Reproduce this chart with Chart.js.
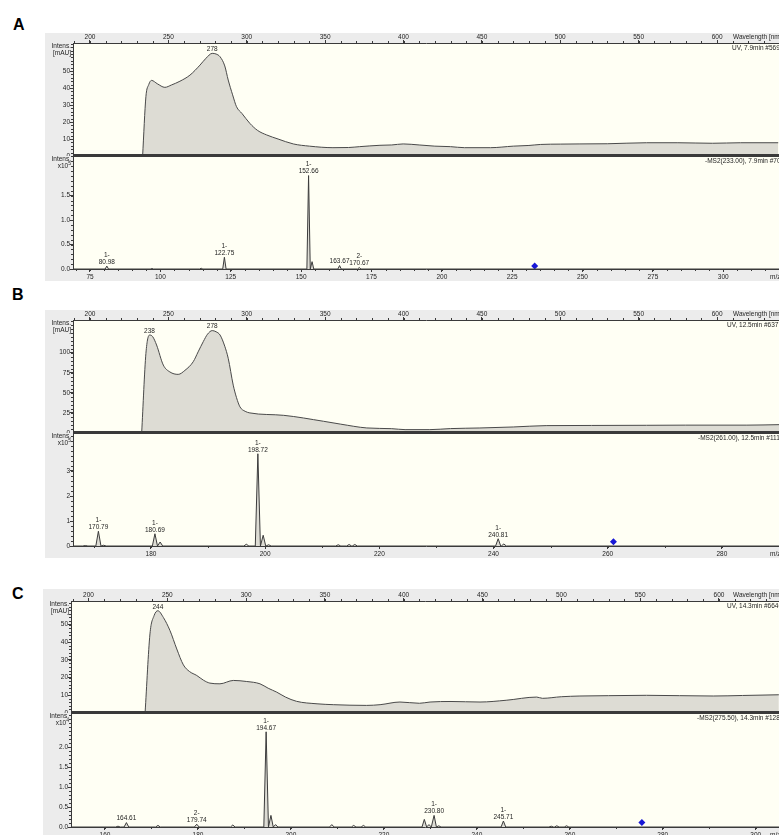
<!DOCTYPE html>
<html>
<head>
<meta charset="utf-8">
<script src="https://cdn.jsdelivr.net/npm/chart.js@4.4.0/dist/chart.umd.min.js"></script>
<style>
  body { margin: 0; width: 779px; height: 835px; overflow: hidden; background: #fff; position: relative; }
  .letter { position: absolute; font: bold 16px "Liberation Sans", Arial, sans-serif; line-height: 16px; color: #000; }
  .frame { position: absolute; background: #ececec; }
  canvas { position: absolute; }
</style>
</head>
<body>
<div class="letter" style="left:13px;top:17px">A</div>
<div class="letter" style="left:12px;top:287px">B</div>
<div class="letter" style="left:12px;top:586px">C</div>

<div class="frame" style="left:45px;top:33px;width:734px;height:248px"></div>
<div class="frame" style="left:45px;top:310px;width:734px;height:248px"></div>
<div class="frame" style="left:43px;top:589px;width:736px;height:250px"></div>

<canvas id="uvA" width="734" height="123" style="left:45px;top:33px"></canvas>
<canvas id="msA" width="734" height="125" style="left:45px;top:156px"></canvas>
<canvas id="uvB" width="734" height="123" style="left:45px;top:310px"></canvas>
<canvas id="msB" width="734" height="125" style="left:45px;top:433px"></canvas>
<canvas id="uvC" width="736" height="124" style="left:43px;top:589px"></canvas>
<canvas id="msC" width="736" height="125" style="left:43px;top:713px"></canvas>

<script>
// UV spectra (wavelength nm / absorbance mAU)
const uvA_nm  = [233.6, 235.7, 237.5, 239.3, 243, 247.8, 252, 257.4, 263.8, 270.2, 274, 278, 280.5, 283, 286, 288.2, 291, 293.5, 297, 302, 307, 312.7, 320, 329.7, 340, 355, 365, 372, 385, 392.5, 399.8, 410, 420, 430, 438.9, 455.5, 470, 480, 487.5, 500, 512, 530, 555, 575, 597, 615, 639];
const uvA_abs = [0, 34.9, 42, 44.5, 42.5, 40.4, 41.8, 44, 47.6, 53.5, 57.5, 60.4, 60, 58.4, 53, 44.7, 36, 29, 25, 19.2, 15, 12.4, 10, 7.1, 5.8, 4.9, 5.0, 5.5, 6.3, 6.5, 7.1, 6.5, 5.8, 5.5, 4.9, 4.9, 5.8, 6.2, 6.8, 7.0, 7.1, 7.2, 7.8, 7.8, 7.5, 7.8, 7.8];
const uvA_peaks = [278];

const uvB_nm  = [233, 235.7, 238, 240, 242.5, 246.8, 251, 256.3, 260.6, 265.9, 269, 272.3, 275, 278, 280.5, 283, 286, 288.2, 291.4, 293.5, 295.7, 299, 302, 323.6, 349, 360, 376.6, 392.5, 401, 416.8, 430, 448.7, 470, 491, 520, 555, 580, 619, 639.6];
const uvB_abs = [0, 99, 122, 120, 109.6, 84.6, 76, 73, 78, 88.8, 101, 113.8, 123, 127.5, 126, 122, 108, 93, 59.6, 44, 32.5, 27, 25, 22, 14.6, 11, 6.3, 5.4, 4.2, 4.2, 5.5, 6.25, 7.5, 9.2, 9.4, 9.6, 9.8, 9.8, 10.4];
const uvB_peaks = [238, 278];

const uvC_nm  = [235.9, 239, 241.6, 244, 247.5, 251.7, 256, 260.2, 264, 268.7, 273, 277, 283.4, 291.9, 300.4, 308.8, 314, 319.4, 325, 332, 345, 355.3, 376.5, 385, 397.6, 410, 416.7, 430, 448.4, 465, 484.4, 488, 500, 511.8, 530, 554, 575, 596.4, 615, 638];
const uvC_abs = [0, 44.7, 55, 57.8, 54, 46.6, 36.2, 27.2, 23.5, 21.2, 18.5, 16.9, 16.5, 18.4, 17.8, 16.5, 14, 11.8, 9, 6.6, 5.2, 4.7, 4.3, 4.7, 6.2, 5.5, 6.2, 6.5, 6.2, 7.2, 9.0, 8.3, 9.2, 9.6, 9.8, 10, 9.8, 9.6, 9.9, 10.3];
const uvC_peaks = [244];

const uvX_ticks  = [200, 250, 300, 350, 400, 450, 500, 550, 600];
const uvA_yticks = [0, 10, 20, 30, 40, 50];
const uvB_yticks = [0, 25, 50, 75, 100];
const uvC_yticks = [0, 10, 20, 30, 40, 50];

// MS2 spectra (m/z / intensity in x10^n)
const msA_mz  = [80.98, 97.0, 114.5, 122.75, 152.66, 153.9, 163.67, 170.67];
const msA_int = [0.06, 0.01, 0.015, 0.24, 1.91, 0.15, 0.07, 0.03];
const msA_lbl = ['1-\n80.98', '', '', '1-\n122.75', '1-\n152.66', '', '163.67', '2-\n170.67'];
const msA_prec = [233.00], msA_precY = [0.06];
const msA_xticks = [75, 100, 125, 150, 175, 200, 225, 250, 275, 300];
const msA_yticks = [0, 0.5, 1.0, 1.5];

const msB_mz  = [168.5, 170.79, 171.7, 180.69, 181.6, 196.7, 198.72, 199.65, 200.6, 212.8, 214.7, 215.7, 240.81, 241.8];
const msB_int = [0.02, 0.59, 0.03, 0.49, 0.16, 0.07, 3.69, 0.43, 0.05, 0.05, 0.06, 0.06, 0.29, 0.08];
const msB_lbl = ['', '1-\n170.79', '', '1-\n180.69', '', '', '1-\n198.72', '', '', '', '', '', '1-\n240.81', ''];
const msB_prec = [261.00], msB_precY = [0.17];
const msB_xticks = [180, 200, 220, 240, 260, 280];
const msB_yticks = [0, 1, 2, 3];

const msC_mz  = [162.8, 164.61, 171.4, 179.74, 187.5, 194.67, 195.7, 196.7, 208.8, 213.5, 215.6, 228.7, 229.7, 230.80, 231.8, 245.71, 256.0, 257.2, 259.3];
const msC_int = [0.02, 0.11, 0.04, 0.07, 0.05, 2.38, 0.29, 0.06, 0.06, 0.04, 0.04, 0.19, 0.06, 0.29, 0.03, 0.15, 0.02, 0.03, 0.03];
const msC_lbl = ['', '164.61', '', '2-\n179.74', '', '1-\n194.67', '', '', '', '', '', '', '', '1-\n230.80', '', '1-\n245.71', '', '', ''];
const msC_prec = [275.50], msC_precY = [0.11];
const msC_xticks = [160, 180, 200, 220, 240, 260, 280, 300];
const msC_yticks = [0, 0.5, 1.0, 1.5, 2.0];

const FAM = '"Liberation Sans", Arial, sans-serif';
const FONT = '6.5px ' + FAM;
const TXT = '#1e1e1e', AX = '#3a3a3a', LINE = '#4a4a4a', FILL = '#dddcd4', PLOT = '#fffff4';

// draws plot background, minor ticks, divider, peak labels and the small texts
function decor(c) {
  return {
    id: 'decor',
    beforeDraw(chart) {
      const ctx = chart.ctx, a = chart.chartArea;
      ctx.save();
      ctx.fillStyle = PLOT;
      ctx.fillRect(a.left, a.top, a.right - a.left, a.bottom - a.top);
      ctx.restore();
    },
    afterDraw(chart) {
      const ctx = chart.ctx, a = chart.chartArea;
      const xs = chart.scales.x, ys = chart.scales.y;
      ctx.save();
      ctx.strokeStyle = AX;
      ctx.lineWidth = 1;
      ctx.beginPath();
      for (let v = Math.ceil(xs.min / c.minorX) * c.minorX; v <= xs.max; v += c.minorX) {
        const p = Math.round(xs.getPixelForValue(v)) + 0.5;
        if (c.top) { ctx.moveTo(p, a.top - 2); ctx.lineTo(p, a.top); }
        else { ctx.moveTo(p, a.bottom); ctx.lineTo(p, a.bottom + 2); }
      }
      for (let k = 1; k * c.minorY <= ys.max; k++) {
        const p = Math.round(ys.getPixelForValue(k * c.minorY)) + 0.5;
        ctx.moveTo(a.left - 2, p); ctx.lineTo(a.left, p);
      }
      ctx.stroke();

      // divider between the two plots
      ctx.beginPath();
      if (c.top) { ctx.lineWidth = 2; ctx.moveTo(a.left, a.bottom - 1); ctx.lineTo(a.right, a.bottom - 1); }
      else { ctx.lineWidth = 1; ctx.moveTo(a.left, a.top + 0.5); ctx.lineTo(a.right, a.top + 0.5); }
      ctx.stroke();

      ctx.font = FONT;
      ctx.fillStyle = TXT;
      ctx.textBaseline = 'middle';
      ctx.textAlign = 'center';
      c.labels.forEach(l => {
        const px = xs.getPixelForValue(l.x), py = ys.getPixelForValue(l.y) - 4;
        const lines = l.text.split('\n');
        lines.forEach((t, k) => ctx.fillText(t, px, py - (lines.length - 1 - k) * 7));
      });

      // y title
      ctx.textAlign = 'right';
      const rx = a.left - 2;
      if (c.top) {
        ctx.fillText('Intens.', rx, a.top + 3.5);
        ctx.fillText('[mAU]', rx, a.top + 10.5);
      } else {
        ctx.fillText('Intens.', rx, a.top + 3.5);
        ctx.font = '5px ' + FAM;
        const ew = ctx.measureText(c.exp).width;
        ctx.fillText(c.exp, rx, a.top + 8);
        ctx.font = FONT;
        ctx.fillText('x10', rx - ew, a.top + 10);
      }

      ctx.textAlign = 'left';
      ctx.fillText(c.header, a.right - c.headerDx, a.top + 5.5);
      if (c.top) ctx.fillText('Wavelength [nm]', a.right - 46, a.top - 5.5);
      else ctx.fillText('m/z', a.right - 9, a.bottom + 8);
      ctx.restore();
    }
  };
}

function options(o) {
  const tickFont = {family: FAM, size: 6.5};
  return {
    responsive: false,
    animation: false,
    devicePixelRatio: 1,
    events: [],
    layout: {padding: 0, autoPadding: false},
    plugins: {legend: {display: false}, tooltip: {enabled: false}},
    scales: {
      x: {
        type: 'linear', position: o.top ? 'top' : 'bottom', min: o.xmin, max: o.xmax,
        afterBuildTicks: s => { s.ticks = o.xticks.map(v => ({value: v})); },
        afterFit: s => { s.height = o.axisH; s.paddingLeft = 0; s.paddingRight = 0; },
        ticks: {font: tickFont, color: TXT, padding: o.top ? -1 : 1, maxRotation: 0, autoSkip: false},
        grid: {drawOnChartArea: false, tickLength: 3, color: AX},
        border: {color: AX, width: 1}
      },
      y: {
        type: 'linear', min: 0, max: o.ymax,
        afterBuildTicks: s => { s.ticks = o.yticks.map(v => ({value: v})); },
        afterFit: s => { s.width = o.axisW; s.paddingTop = 0; s.paddingBottom = 0; },
        ticks: {font: tickFont, color: TXT, padding: 0, autoSkip: false, callback: v => o.fmt(v)},
        grid: {drawOnChartArea: false, tickLength: 3, color: AX},
        border: {color: AX, width: 1}
      }
    }
  };
}

function uvChart(id, nm, abs, peaks, o) {
  const pts = nm.map((x, i) => ({x: x, y: abs[i]}));
  const labels = peaks.map(p => ({x: p, y: abs[nm.indexOf(p)], text: String(p)}));
  o.top = true;
  new Chart(document.getElementById(id), {
    type: 'line',
    data: {datasets: [{
      data: pts, borderColor: LINE, borderWidth: 1, backgroundColor: FILL,
      fill: 'origin', pointRadius: 0, cubicInterpolationMode: 'monotone'
    }]},
    options: options(o),
    plugins: [decor({top: true, minorX: 10, minorY: o.minorY, labels: labels,
                     header: o.header, headerDx: o.headerDx})]
  });
}

function msChart(id, mz, inten, lbl, prec, precY, o) {
  const w = o.width;
  const pts = [{x: o.xmin, y: 0}];
  mz.forEach((m, i) => { pts.push({x: m - w, y: 0}, {x: m, y: inten[i]}, {x: m + w, y: 0}); });
  pts.push({x: o.xmax, y: 0});
  pts.sort((p, q) => p.x - q.x);
  const labels = [];
  mz.forEach((m, i) => { if (lbl[i]) labels.push({x: m, y: inten[i], text: lbl[i]}); });
  o.top = false;
  new Chart(document.getElementById(id), {
    type: 'line',
    data: {datasets: [
      {data: pts, borderColor: '#3c3c3c', borderWidth: 1, backgroundColor: FILL,
       fill: 'origin', pointRadius: 0, tension: 0},
      {data: prec.map((m, i) => ({x: m, y: precY[i]})), showLine: false, pointStyle: 'rectRot',
       pointRadius: 3.5, backgroundColor: '#1818d6', borderColor: '#1818d6', borderWidth: 0, clip: false}
    ]},
    options: options(o),
    plugins: [decor({top: false, minorX: o.minorX, minorY: o.minorY, labels: labels,
                     header: o.header, headerDx: o.headerDx, exp: o.exp})]
  });
}

uvChart('uvA', uvA_nm, uvA_abs, uvA_peaks, {xmin: 189.2, xmax: 639.5, ymax: 66.5, xticks: uvX_ticks, yticks: uvA_yticks,
  axisH: 10, axisW: 28, minorY: 2, fmt: v => String(v), header: 'UV, 7.9min #5693', headerDx: 47});
msChart('msA', msA_mz, msA_int, msA_lbl, msA_prec, msA_precY, {xmin: 68.96, xmax: 319.8, ymax: 2.31, xticks: msA_xticks,
  yticks: msA_yticks, axisH: 12, axisW: 28, width: 0.6, minorX: 5, minorY: 0.1, fmt: v => v.toFixed(1),
  header: '-MS2(233.00), 7.9min #704', headerDx: 74, exp: '5'});

uvChart('uvB', uvB_nm, uvB_abs, uvB_peaks, {xmin: 189.2, xmax: 639.5, ymax: 140.7, xticks: uvX_ticks, yticks: uvB_yticks,
  axisH: 10, axisW: 28, minorY: 5, fmt: v => String(v), header: 'UV, 12.5min #6377', headerDx: 52});
msChart('msB', msB_mz, msB_int, msB_lbl, msB_prec, msB_precY, {xmin: 166.34, xmax: 290.0, ymax: 4.52, xticks: msB_xticks,
  yticks: msB_yticks, axisH: 12, axisW: 28, width: 0.45, minorX: 10, minorY: 0.2, fmt: v => String(v),
  header: '-MS2(261.00), 12.5min #1119', headerDx: 81, exp: '5'});

uvChart('uvC', uvC_nm, uvC_abs, uvC_peaks, {xmin: 188.9, xmax: 638.1, ymax: 63.3, xticks: uvX_ticks, yticks: uvC_yticks,
  axisH: 12, axisW: 28, minorY: 2, fmt: v => String(v), header: 'UV, 14.3min #6646', headerDx: 52});
msChart('msC', msC_mz, msC_int, msC_lbl, msC_prec, msC_precY, {xmin: 152.69, xmax: 305.0, ymax: 2.85, xticks: msC_xticks,
  yticks: msC_yticks, axisH: 11, axisW: 28, width: 0.5, minorX: 10, minorY: 0.1, fmt: v => v.toFixed(1),
  header: '-MS2(275.50), 14.3min #1282', headerDx: 82, exp: '4'});
</script>
</body>
</html>
